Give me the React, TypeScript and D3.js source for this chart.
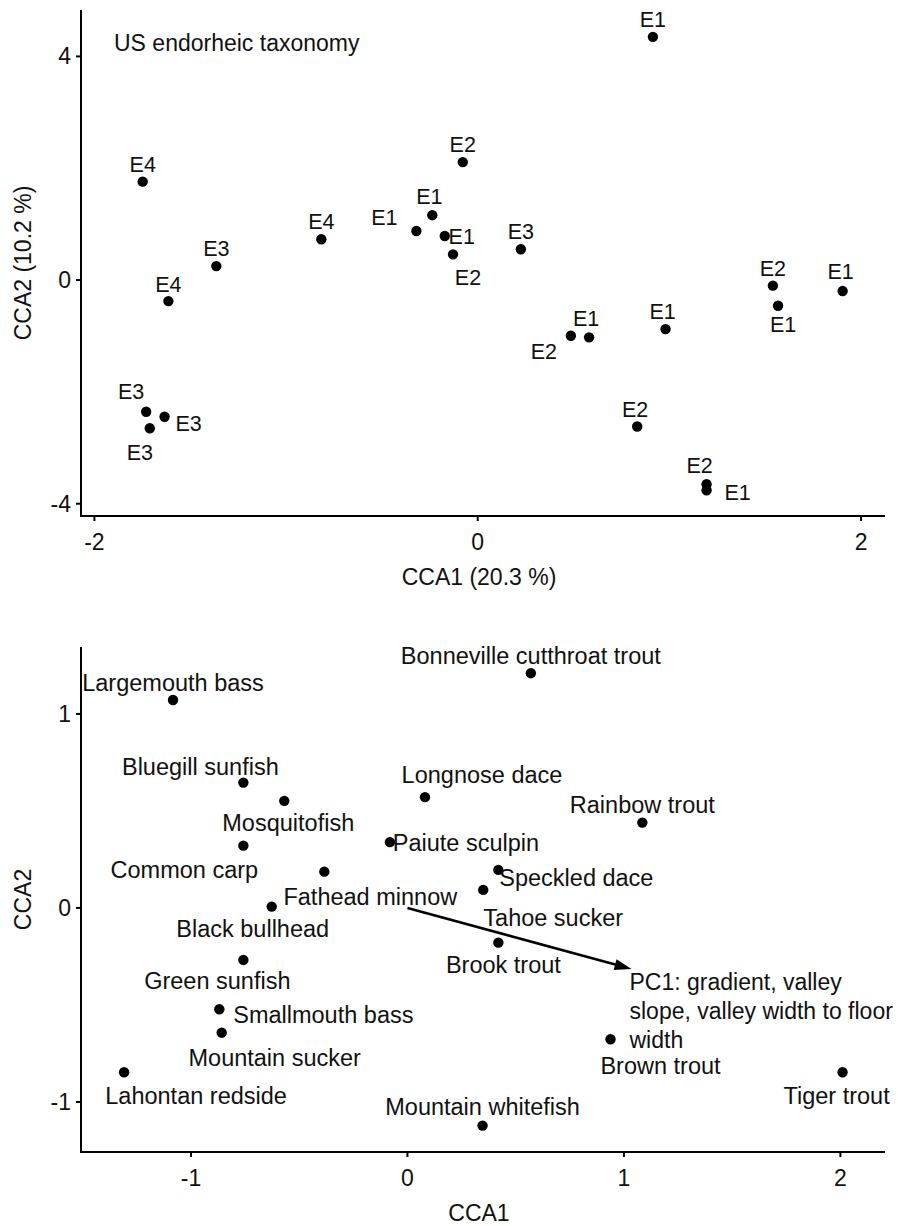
import React from 'react';
import * as d3 from 'd3';

// top panel: site scores, labelled by endorheic taxonomy class
const siteClass = ['E1', 'E4', 'E2', 'E1', 'E1', 'E1', 'E2', 'E3', 'E4', 'E3', 'E4', 'E2', 'E1', 'E1', 'E2', 'E1', 'E1', 'E2', 'E2', 'E1', 'E3', 'E3', 'E3'];
const siteCCA1 = [0.914, -1.748, -0.078, -0.237, -0.32, -0.172, -0.129, 0.225, -0.816, -1.364, -1.614, 1.54, 1.567, 1.904, 0.486, 0.581, 0.98, 0.832, 1.194, 1.194, -1.73, -1.634, -1.711];
const siteCCA2 = [4.35, 1.76, 2.11, 1.16, 0.877, 0.787, 0.46, 0.55, 0.73, 0.25, -0.376, -0.1, -0.46, -0.197, -0.996, -1.025, -0.877, -2.62, -3.65, -3.76, -2.356, -2.445, -2.65];
// label nudges (px) imitating the repel layout
const siteNudge = [[0, -17], [0, -17], [0, -17], [-3, -18], [-32, -13], [17, 1], [15, 24], [0, -17], [0, -17], [0, -17], [0, -16], [0, -17], [5, 19], [-2, -19], [-27, 16], [-3, -18], [-3, -17], [-2, -17], [-7, -18], [31, 3], [-15, -20], [24, 7], [-10, 25]];
const topXTicks = [-2, 0, 2];
const topYTicks = [-4, 0, 4];

// bottom panel: species scores
const species = ['Largemouth bass', 'Bluegill sunfish', 'Mosquitofish', 'Common carp', 'Fathead minnow', 'Black bullhead', 'Green sunfish', 'Smallmouth bass', 'Mountain sucker', 'Lahontan redside', 'Mountain whitefish', 'Brown trout', 'Tiger trout', 'Brook trout', 'Tahoe sucker', 'Speckled dace', 'Paiute sculpin', 'Longnose dace', 'Rainbow trout', 'Bonneville cutthroat trout'];
const spCCA1 = [-1.083, -0.758, -0.569, -0.758, -0.384, -0.627, -0.758, -0.869, -0.858, -1.309, 0.347, 0.938, 2.01, 0.42, 0.35, 0.42, -0.081, 0.081, 1.085, 0.57];
const spCCA2 = [1.072, 0.646, 0.552, 0.321, 0.187, 0.007, -0.268, -0.522, -0.643, -0.847, -1.122, -0.677, -0.847, -0.179, 0.093, 0.196, 0.339, 0.571, 0.44, 1.21];
const spNudge = [[0, -17], [-43, -16], [4, 22], [-59, 24], [46, 25], [-19, 22], [-26, 21], [104, 6], [53, 25], [72, 24], [0, -19], [50, 27], [-6, 24], [5, 22], [70, 28], [78, 8], [76, 1], [57, -22], [0, -18], [0, -17]];
const envArrow = [1.035, -0.315];
const envLabel = ['PC1: gradient, valley', 'slope, valley width to floor', 'width'];
const botXTicks = [-1, 0, 1, 2];
const botYTicks = [-1, 0, 1];

const FONT = '"Liberation Sans", Arial, sans-serif';
const INK = '#111';

function Axes({ x, y, xTicks, yTicks, xTitle, yTitle }: any) {
  const [x0, x1] = x.range();
  const [y0, y1] = y.range();
  return (
    <g fontFamily={FONT} fill={INK}>
      <line x1={x0} x2={x0} y1={y0 + 1} y2={y1} stroke="#000" strokeWidth={2} />
      <line x1={x0 - 1} x2={x1} y1={y0} y2={y0} stroke="#000" strokeWidth={2} />
      {yTicks.map((t: number) => (
        <g key={'y' + t}>
          <line x1={x0 - 5} x2={x0} y1={y(t)} y2={y(t)} stroke="#000" strokeWidth={2} />
          <text x={x0 - 10} y={y(t)} textAnchor="end" dominantBaseline="central" fontSize={23}>{t}</text>
        </g>
      ))}
      {xTicks.map((t: number) => (
        <g key={'x' + t}>
          <line x1={x(t)} x2={x(t)} y1={y0} y2={y0 + 5} stroke="#000" strokeWidth={2} />
          <text x={x(t)} y={y0 + 26} textAnchor="middle" dominantBaseline="central" fontSize={23}>{t}</text>
        </g>
      ))}
      <text x={(x0 + x1) / 2 - 4} y={y0 + 61} textAnchor="middle" dominantBaseline="central" fontSize={23}>{xTitle}</text>
      <text transform={`translate(23,${(y0 + y1) / 2}) rotate(-90)`} textAnchor="middle" dominantBaseline="central" fontSize={23}>{yTitle}</text>
    </g>
  );
}

export default function App() {
  const xTop = d3.scaleLinear().domain([-2.07, 2.125]).range([81, 885]);
  const yTop = d3.scaleLinear().domain([-4.22, 4.83]).range([516, 10]);
  const xBot = d3.scaleLinear().domain([-1.508, 2.206]).range([81, 885]);
  const yBot = d3.scaleLinear().domain([-1.258, 1.345]).range([1152, 647]);

  const ax = xBot(envArrow[0]);
  const ay = yBot(envArrow[1]);
  const ox = xBot(0);
  const oy = yBot(0);
  const ang = Math.atan2(ay - oy, ax - ox);
  const head = 17;
  const hw = 5.5;
  const bx = ax - head * Math.cos(ang);
  const by = ay - head * Math.sin(ang);
  const headPts = [
    [ax, ay],
    [bx + hw * Math.sin(ang), by - hw * Math.cos(ang)],
    [bx - hw * Math.sin(ang), by + hw * Math.cos(ang)],
  ];

  return (
    <div style={{ position: 'absolute', left: 0, top: 0 }}>
      <svg width={898} height={1226} style={{ display: 'block', background: '#fff' }}>
        {/* top panel */}
        <Axes x={xTop} y={yTop} xTicks={topXTicks} yTicks={topYTicks} xTitle="CCA1 (20.3 %)" yTitle="CCA2 (10.2 %)" />
        <text x={114} y={43} dominantBaseline="central" fontFamily={FONT} fontSize={23} fill={INK}>US endorheic taxonomy</text>
        {siteClass.map((c, i) => (
          <g key={'s' + i}>
            <circle cx={xTop(siteCCA1[i])} cy={yTop(siteCCA2[i])} r={5.2} fill="#000" />
            <text x={xTop(siteCCA1[i]) + siteNudge[i][0]} y={yTop(siteCCA2[i]) + siteNudge[i][1]} textAnchor="middle" dominantBaseline="central" fontFamily={FONT} fontSize={21.5} fill={INK}>{c}</text>
          </g>
        ))}

        {/* bottom panel */}
        <Axes x={xBot} y={yBot} xTicks={botXTicks} yTicks={botYTicks} xTitle="CCA1" yTitle="CCA2" />
        <line x1={ox} y1={oy} x2={bx + 2 * Math.cos(ang)} y2={by + 2 * Math.sin(ang)} stroke="#000" strokeWidth={2.6} />
        <polygon points={headPts.map((p) => p.join(',')).join(' ')} fill="#000" />
        {envLabel.map((l, i) => (
          <text key={'e' + i} x={ax - 2} y={ay + 13 + i * 29} dominantBaseline="central" fontFamily={FONT} fontSize={23} fill={INK}>{l}</text>
        ))}
        {species.map((s, i) => (
          <g key={'p' + i}>
            <circle cx={xBot(spCCA1[i])} cy={yBot(spCCA2[i])} r={5.2} fill="#000" />
            <text x={xBot(spCCA1[i]) + spNudge[i][0]} y={yBot(spCCA2[i]) + spNudge[i][1]} textAnchor="middle" dominantBaseline="central" fontFamily={FONT} fontSize={23.5} fill={INK}>{s}</text>
          </g>
        ))}
      </svg>
    </div>
  );
}
